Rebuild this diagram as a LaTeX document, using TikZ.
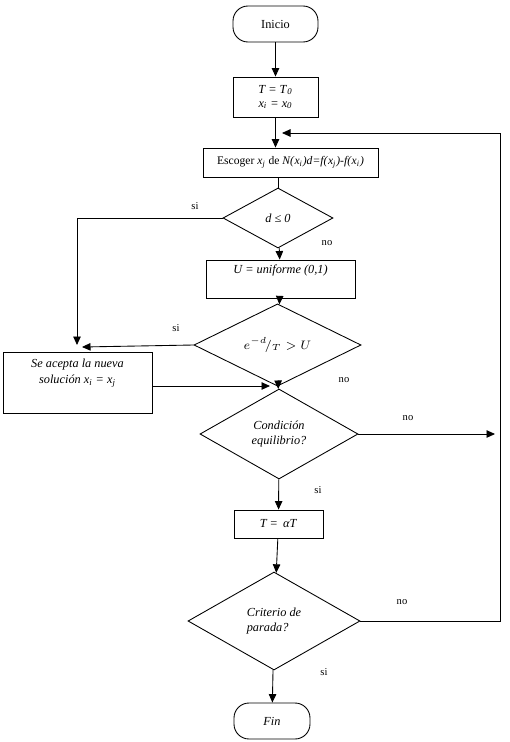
\documentclass[tikz,border=0pt]{standalone}
\usepackage{fontspec}
\setmainfont{Liberation Serif}
\usetikzlibrary{shapes.geometric,arrows.meta}
\newcommand{\vsub}[2]{\textit{#1}\textsubscript{\textit{#2}}}

\begin{document}
\begin{tikzpicture}[line width=0.5pt,
  font=\fontsize{7}{9}\selectfont,
  >={Triangle[length=1.7mm,width=1.5mm]},
  proc/.style={draw,rectangle,inner sep=1pt,align=center},
  term/.style={draw,rectangle,rounded corners=3mm,inner sep=1pt},
  decis/.style={draw,diamond,inner sep=0pt,align=center},
  lbl/.style={font=\fontsize{6}{7}\selectfont,inner sep=0pt}]
\useasboundingbox (0,0) rectangle (10.18,-14.84);
% blocks
\node[term,minimum width=1.7cm,minimum height=0.72cm] (inicio) at (5.51,-0.48) {Inicio};
\node[proc,minimum width=1.7cm,minimum height=0.8cm] (t0) at (5.51,-1.94) {\textit{T = T}\textsubscript{\textit{0}}\\[-1pt] \vsub{x}{i} \textit{= }\vsub{x}{0}};
\node[proc,minimum width=3.5cm,minimum height=0.58cm,font=\fontsize{6.6}{8}\selectfont] (esc) at (5.81,-3.25) {Escoger \vsub{x}{j} de \textit{N(}\vsub{x}{i}\textit{)d=f(}\vsub{x}{j}\textit{)-f(}\vsub{x}{i}\textit{)}};
\node[decis,minimum width=2.2cm,minimum height=1.2cm] (dec1) at (5.56,-4.36) {\textit{d ≤ 0}};
\node[proc,minimum width=2.98cm,minimum height=0.76cm,text depth=0.4cm] (u) at (5.61,-5.58) {\textit{U = uniforme (0,1)}};
\node[decis,minimum width=3.34cm,minimum height=1.32cm] (dec2) at (5.55,-6.9) {\fontsize{7.2}{9}\selectfont$e^{-d}\!/_{T} > U$};
\node[proc,minimum width=2.98cm,minimum height=1.22cm] (acc) at (1.55,-7.65) {\textit{Se acepta la nueva}\\ \textit{solución }\vsub{x}{i}\textit{ = }\vsub{x}{j}\\[4pt]};
\node[decis,minimum width=3.16cm,minimum height=1.8cm] (dec3) at (5.58,-8.68) {\textit{Condición}\\ \textit{equilibrio?}};
\node[proc,minimum width=1.78cm,minimum height=0.56cm] (ta) at (5.57,-10.48) {\textit{T =\, αT}};
\node[decis,minimum width=3.44cm,minimum height=1.96cm,align=left] (dec4) at (5.48,-12.42) {\textit{Criterio de}\\ \textit{parada?}};
\node[term,minimum width=1.52cm,minimum height=0.72cm] (fin) at (5.44,-14.42) {\textit{Fin}};
% free ends
\coordinate (back) at (5.64,-2.66);
\coordinate (corner) at (10.0,-2.66);
\coordinate (join1) at (1.54,-6.9);
\coordinate (join2) at (1.64,-6.94);
\coordinate (accend) at (5.4,-7.72);
\coordinate (eqend) at (9.9,-8.68);
% connectors
\draw[->] (inicio) -- (t0);
\draw[->] (t0.south) -- (t0.south |- esc.north);
\draw (dec1.north |- esc.south) -- (dec1.north);
\draw[->] (dec1) -- (u);
\draw[->] (u) -- (dec2);
\draw[->] (dec2) -- (dec3);
\draw[->] (dec3) -- (ta);
\draw[->] (ta) -- (dec4);
\draw[->] (dec4) -- (fin);
\draw[->] (dec1.west) -| (join1);
\draw[->] (dec2.west) -- (join2);
\draw[->] (acc.east |- accend) -- (accend);
\draw[->] (dec3.east) -- (eqend);
\draw[->] (dec4.east) -| (corner) -- (back);
% labels
\node[lbl] (si1) at (3.9,-4.12) {si};
\node[lbl] (no1) at (6.54,-4.86) {no};
\node[lbl] (si2) at (3.52,-6.56) {si};
\node[lbl] (no2) at (6.88,-7.6) {no};
\node[lbl] (no3) at (8.16,-8.36) {no};
\node[lbl] (si3) at (6.36,-9.8) {si};
\node[lbl] (no4) at (8.04,-12.04) {no};
\node[lbl] (si4) at (6.48,-13.44) {si};
\end{tikzpicture}
\end{document}
